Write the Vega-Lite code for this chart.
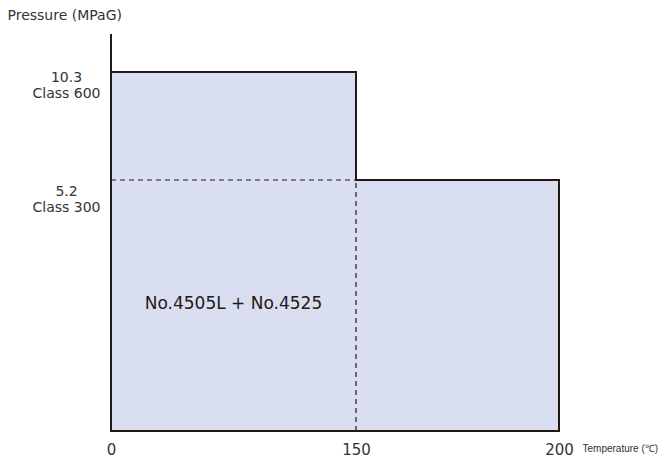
{
  "$schema": "https://vega.github.io/schema/vega-lite/v6.json",
  "width": 448,
  "height": 396,
  "autosize": {"type": "none"},
  "padding": {"left": 111, "top": 35, "right": 101, "bottom": 27},
  "background": "white",
  "config": {"view": {"stroke": null}},
  "datasets": {
    "fill": [
      {"x": 0, "x2": 150, "y": 10.3},
      {"x": 150, "x2": 200, "y": 5.2}
    ],
    "dash": [
      {"x": 0, "x2": 150, "y": 5.2, "y2": 5.2},
      {"x": 150, "x2": 150, "y": 0, "y2": 5.2}
    ],
    "outline": [
      {"o": 1, "x": 0, "y": 12},
      {"o": 2, "x": 0, "y": 0},
      {"o": 3, "x": 200, "y": 0},
      {"o": 4, "x": 200, "y": 5.2},
      {"o": 5, "x": 150, "y": 5.2},
      {"o": 6, "x": 150, "y": 10.3},
      {"o": 7, "x": 0, "y": 10.3}
    ],
    "label": [
      {"x": 75, "y": 2.63, "text": "No.4505L + No.4525"}
    ]
  },
  "layer": [
    {
      "data": {"name": "fill"},
      "mark": {"type": "rect", "color": "#d9dff0", "stroke": null},
      "encoding": {
        "x": {
          "field": "x", "type": "quantitative",
          "scale": {"domain": [0, 150, 200], "range": [0, 245, 448], "nice": false, "zero": false},
          "axis": {
            "values": [0, 150, 200], "domain": false, "ticks": false, "grid": false,
            "labelFont": "DejaVu Sans", "labelFontSize": 15, "labelColor": "#333333",
            "labelPadding": 11, "labelBaseline": "top", "labelFlush": false,
            "title": "Temperature (\u2103)", "titleFont": "Liberation Sans",
            "titleFontSize": 10, "titleFontWeight": "normal", "titleColor": "#333333",
            "titleAlign": "left", "titleBaseline": "middle", "titleAnchor": "start",
            "titleX": 471, "titleY": 17, "titleAngle": 0
          }
        },
        "x2": {"field": "x2"},
        "y": {
          "field": "y", "type": "quantitative",
          "scale": {"domain": [0, 5.2, 10.3, 12], "range": [396, 145, 37, 0], "nice": false, "zero": false},
          "axis": {
            "values": [5.2, 10.3], "domain": false, "ticks": false, "grid": false,
            "labelExpr": "datum.value == 10.3 ? ['10.3', 'Class 600'] : ['5.2', 'Class 300']",
            "labelFont": "DejaVu Sans", "labelFontSize": 14, "labelColor": "#333333",
            "labelAlign": "center", "labelBaseline": "middle", "labelPadding": 45,
            "labelLineHeight": 16,
            "labelOffset": {"condition": {"test": "datum.value == 5.2", "value": 11}, "value": 5},
            "title": "Pressure (MPaG)", "titleFont": "DejaVu Sans", "titleFontSize": 14,
            "titleFontWeight": "normal", "titleColor": "#333333",
            "titleAngle": 0, "titleAlign": "left", "titleBaseline": "middle",
            "titleX": -104, "titleY": -20
          }
        },
        "y2": {"datum": 0}
      }
    },
    {
      "data": {"name": "dash"},
      "mark": {"type": "rule", "color": "#231815", "strokeWidth": 1.2, "strokeDash": [5, 4]},
      "encoding": {
        "x": {"field": "x", "type": "quantitative"},
        "x2": {"field": "x2"},
        "y": {"field": "y", "type": "quantitative"},
        "y2": {"field": "y2"}
      }
    },
    {
      "data": {"name": "outline"},
      "mark": {"type": "line", "color": "#231815", "strokeWidth": 2, "strokeJoin": "miter", "strokeCap": "square"},
      "encoding": {
        "x": {"field": "x", "type": "quantitative"},
        "y": {"field": "y", "type": "quantitative"},
        "order": {"field": "o", "type": "quantitative"}
      }
    },
    {
      "data": {"name": "label"},
      "mark": {"type": "text", "font": "DejaVu Sans", "fontSize": 17, "color": "#231815", "align": "center", "baseline": "middle"},
      "encoding": {
        "x": {"field": "x", "type": "quantitative"},
        "y": {"field": "y", "type": "quantitative"},
        "text": {"field": "text"}
      }
    }
  ]
}
